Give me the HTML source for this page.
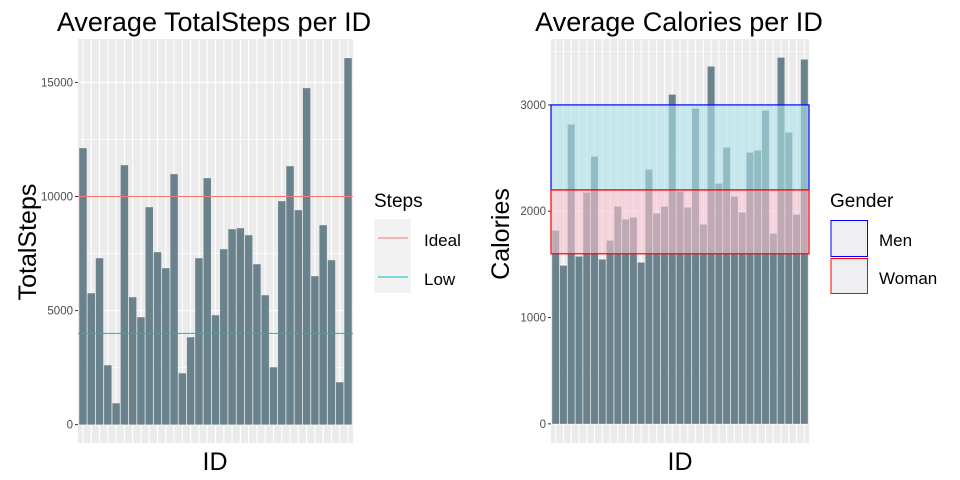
<!DOCTYPE html>
<html><head><meta charset="utf-8"><style>
body{margin:0;background:#fff;}
svg{display:block;font-family:"Liberation Sans",Arial,sans-serif;}
</style></head><body>
<svg id="chart" width="960" height="480" viewBox="0 0 960 480"></svg>
<script>
const stepIds = Array.from({length:33},(_,i)=>'ID'+(i+1));
const stepValues = [12120,5760,7295,2602,936,11374,5585,4708,9532,7558,6857,10980,2251,3830,7295,10804,4795,7690,8567,8611,8304,7032,5672,2515,9795,11330,9400,14751,6506,8743,7208,1857,16067];
const stepTicks = [0,5000,10000,15000];
const stepRefs = [10000,4000];
const calIds = Array.from({length:33},(_,i)=>'ID'+(i+1));
const calValues = [1818,1489,2815,1574,2176,2514,1546,1724,2044,1922,1941,1517,2392,1978,2044,3097,2185,2035,2966,1875,3361,2260,2599,2138,1988,2552,2571,2947,1790,3445,2740,1969,3427];
const calTicks = [0,1000,2000,3000];
const calBands = [[2200,3000],[1600,2200]];

const NS='http://www.w3.org/2000/svg';
const svg=document.getElementById('chart');
function mk(tag,attrs,parent){const e=document.createElementNS(NS,tag);for(const k in attrs)e.setAttribute(k,attrs[k]);(parent||svg).appendChild(e);return e;}

function panel(opt){
  const g=mk('g',{});
  
  
  const {x0,x1,yTop,yBot,vmin,vmax,ids,vals,ticks}=opt;
  const sy=v=>yBot-(v-vmin)/(vmax-vmin)*(yBot-yTop);
  const n=ids.length, unit=(x1-x0)/(n-1+1.2);
  const sx=i=>x0+(0.6+i)*unit;
  const bg=mk('rect',{x:x0,y:yTop,width:x1-x0,height:yBot-yTop,fill:'#ebebeb'},g);
  
  
  for(let i=0;i<ticks.length;i++){
    const m=ticks[i]+(ticks[1]-ticks[0])/2;
    if(sy(m)>yTop) mk('line',{x1:x0,x2:x1,y1:sy(m),y2:sy(m),stroke:'#fff','stroke-width':0.6},g);
  }
  ticks.forEach(t=>{
    const l=mk('line',{x1:x0,x2:x1,y1:sy(t),y2:sy(t),stroke:'#fff','stroke-width':1.1},g);
    
    
    mk('line',{x1:x0-3,x2:x0,y1:sy(t),y2:sy(t),stroke:'#333','stroke-width':1},g);
    const tx=mk('text',{x:x0-5,y:sy(t)+4,'text-anchor':'end','font-size':11.5,fill:'#4d4d4d'},g);
    tx.textContent=t;
    
    
  });
  ids.forEach((id,i)=>{
    mk('line',{x1:sx(i),x2:sx(i),y1:yTop,y2:yBot,stroke:'#fff','stroke-width':1.1},g);
  });
  vals.forEach((v,i)=>{
    const b=mk('rect',{x:sx(i)-0.45*unit,y:sy(v),width:0.9*unit,height:sy(0)-sy(v),fill:'#6a828b'},g);
    
    
  });
  return {g,sy,sx};
}

const L=panel({name:'steps-panel',x0:78,x1:353,yTop:39,yBot:443,vmin:-805,vmax:16905,ids:stepIds,vals:stepValues,ticks:stepTicks});
const refColors=['#f8766d','#00bfc4'];
stepRefs.forEach((r,i)=>{
  const l=mk('line',{x1:78,x2:353,y1:L.sy(r),y2:L.sy(r),stroke:refColors[i],'stroke-width':1},L.g);
  
  
});

const R=panel({name:'calories-panel',x0:551,x1:809,yTop:39,yBot:443,vmin:-180,vmax:3620,ids:calIds,vals:calValues,ticks:calTicks});
const bandFill=['rgba(172,227,235,0.6)','rgba(248,195,210,0.6)'];
const bandStroke=['#0000ff','#ff0000'];
calBands.forEach((b,i)=>{
  const r=mk('rect',{x:551,y:R.sy(b[1]),width:258,height:R.sy(b[0])-R.sy(b[1]),fill:bandFill[i],stroke:bandStroke[i],'stroke-width':1.2},R.g);
  
  
});
</script>
<svg width="960" height="480" style="position:absolute;left:0;top:0">
  <text x="214" y="31" text-anchor="middle" font-size="27" fill="#000">Average TotalSteps per ID</text>
  <text x="679" y="31" text-anchor="middle" font-size="27" fill="#000">Average Calories per ID</text>
  <text x="215" y="470" text-anchor="middle" font-size="25">ID</text>
  <text x="680" y="470" text-anchor="middle" font-size="25">ID</text>
  <text transform="translate(36,242) rotate(-90)" text-anchor="middle" font-size="25">TotalSteps</text>
  <text transform="translate(509,234) rotate(-90)" text-anchor="middle" font-size="25">Calories</text>
  <g>
    <text x="374" y="207" font-size="19">Steps</text>
    <rect x="374" y="219" width="37" height="74" fill="#f2f2f2"/>
    <line x1="378" x2="408" y1="238" y2="238" stroke="#f8766d"/>
    <line x1="378" x2="408" y1="277" y2="277" stroke="#00bfc4"/>
    <text x="424" y="246" font-size="17">Ideal</text>
    <text x="424" y="285" font-size="17">Low</text>
  </g>
  <g>
    <text x="830" y="207" font-size="19">Gender</text>
    <rect x="831" y="220.5" width="36.5" height="36" fill="#efeef1" stroke="#0000ff" stroke-width="1"/>
    <rect x="831" y="258.5" width="36.5" height="35" fill="#efeef1" stroke="#ff0000" stroke-width="1"/>
    <text x="879" y="246" font-size="17">Men</text>
    <text x="879" y="284" font-size="17">Woman</text>
  </g>
</svg>
</body></html>
